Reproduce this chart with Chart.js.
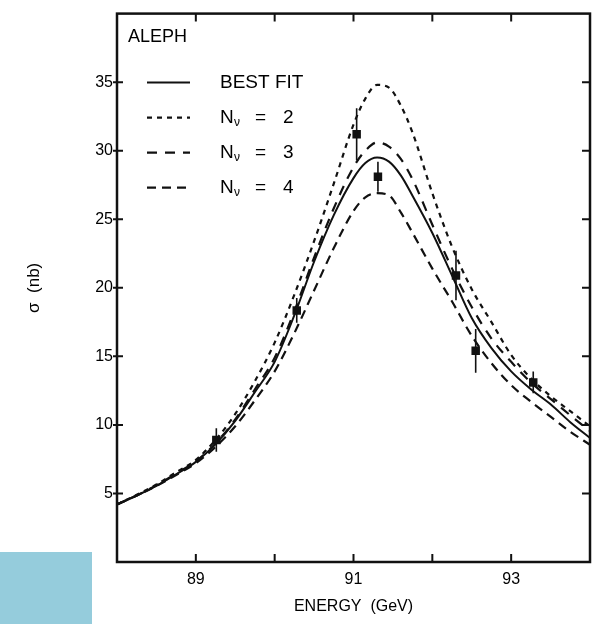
<!DOCTYPE html>
<html>
<head>
<meta charset="utf-8">
<script src="https://cdn.jsdelivr.net/npm/chart.js@4.4.0/dist/chart.umd.min.js"></script>
<style>
  html, body { margin: 0; padding: 0; background: #fff; }
  #wrap { position: relative; width: 602px; height: 624px; }
  #stamp { position: absolute; left: 0; top: 552px; width: 92px; height: 72px; background: #95ccdc; }
  #chart { position: absolute; left: 0; top: 0; }
</style>
</head>
<body>
<div id="wrap">
  <div id="stamp"></div>
  <canvas id="chart" width="602" height="624"></canvas>
</div>
<script>
// energy grid (GeV) shared by the four curves
const energy = [88, 88.25, 88.5, 88.75, 89, 89.25, 89.5, 89.75, 90, 90.25, 90.5, 90.75, 91,
                91.15, 91.3, 91.45, 91.6, 91.75, 92, 92.25, 92.5, 92.75, 93, 93.25, 93.5, 93.75, 94];

// cross sections (nb)
const bestFit = [4.2, 4.85, 5.55, 6.4, 7.3, 8.6, 10.3, 12.4, 14.6, 18.0, 21.9, 25.3, 28.0,
                 29.1, 29.5, 29.2, 28.2, 26.7, 24.0, 20.9, 17.8, 15.6, 13.9, 12.6, 11.5, 10.2, 9.05];
const nu2 = [4.2, 4.9, 5.65, 6.55, 7.45, 8.9, 10.8, 13.2, 16.0, 19.5, 23.4, 27.6, 31.9,
             33.8, 34.8, 34.6, 33.3, 31.3, 26.9, 23.0, 19.9, 17.5, 15.1, 13.4, 12.1, 11.0, 9.9];
const nu3 = [4.2, 4.85, 5.6, 6.45, 7.35, 8.65, 10.4, 12.6, 14.9, 18.3, 22.2, 25.8, 28.8,
             30.0, 30.6, 30.3, 29.4, 27.9, 24.6, 21.4, 18.6, 16.3, 14.6, 13.1, 11.9, 10.7, 9.55];
const nu4 = [4.2, 4.85, 5.55, 6.35, 7.2, 8.4, 9.9, 11.8, 13.9, 16.7, 19.8, 22.9, 25.6,
             26.6, 26.9, 26.75, 25.5, 24.0, 21.4, 19.0, 16.5, 14.5, 12.9, 11.7, 10.6, 9.5, 8.55];

// ALEPH measurements
const pointE = [89.26, 90.28, 91.04, 91.31, 92.30, 92.55, 93.28];
const pointSigma = [8.9, 18.35, 31.2, 28.1, 20.9, 15.4, 13.1];
const pointErr = [0.85, 0.9, 1.9, 1.1, 1.8, 1.6, 0.8];

const legendLabels = ['BEST FIT', 'Nν = 2', 'Nν = 3', 'Nν = 4'];
const yTicks = [5, 10, 15, 20, 25, 30, 35];
const xLabelTicks = [89, 91, 93];

Chart.defaults.font.family = "'Liberation Sans', Arial, sans-serif";
Chart.defaults.color = '#000';

function curve(values) {
    return energy.map((e, i) => ({ x: e, y: values[i] }));
}

const curveStyles = [
    { data: bestFit, dash: [], width: 2 },
    { data: nu2, dash: [5, 5], width: 2.2 },
    { data: nu3, dash: [10, 8], width: 2.2 },
    { data: nu4, dash: [9, 6], width: 2.2 }
];

const datasets = curveStyles.map((s, i) => ({
    type: 'line',
    label: legendLabels[i],
    data: curve(s.data),
    borderColor: '#111',
    borderWidth: s.width,
    borderDash: s.dash,
    pointRadius: 0,
    cubicInterpolationMode: 'monotone',
    fill: false
}));

datasets.push({
    type: 'scatter',
    label: 'ALEPH data',
    data: pointE.map((e, i) => ({ x: e, y: pointSigma[i] })),
    pointStyle: 'rect',
    pointRadius: 6,
    backgroundColor: '#111',
    borderColor: '#111',
    borderWidth: 0
});

// frame with inward ticks on all four sides
const framePlugin = {
    id: 'frame',
    afterDraw(chart) {
        const { ctx, chartArea: a, scales: { x, y } } = chart;
        ctx.save();
        ctx.strokeStyle = '#111';
        ctx.lineWidth = 2.5;
        ctx.strokeRect(a.left, a.top, a.right - a.left, a.bottom - a.top);
        ctx.lineWidth = 2;
        ctx.beginPath();
        x.ticks.forEach(t => {
            if (t.value <= x.min || t.value >= x.max) return;
            const px = x.getPixelForValue(t.value);
            ctx.moveTo(px, a.bottom); ctx.lineTo(px, a.bottom - 8);
            ctx.moveTo(px, a.top); ctx.lineTo(px, a.top + 8);
        });
        yTicks.forEach(v => {
            const py = y.getPixelForValue(v);
            ctx.moveTo(a.left - 4, py); ctx.lineTo(a.left + 6, py);
            ctx.moveTo(a.right, py); ctx.lineTo(a.right - 8, py);
        });
        ctx.stroke();
        ctx.restore();
    }
};

// vertical error bars on the measured points
const errorBarPlugin = {
    id: 'errorBars',
    afterDatasetsDraw(chart) {
        const { ctx, scales: { x, y } } = chart;
        ctx.save();
        ctx.strokeStyle = '#111';
        ctx.lineWidth = 1.6;
        ctx.beginPath();
        pointE.forEach((e, i) => {
            const px = x.getPixelForValue(e);
            ctx.moveTo(px, y.getPixelForValue(pointSigma[i] - pointErr[i]));
            ctx.lineTo(px, y.getPixelForValue(pointSigma[i] + pointErr[i]));
        });
        ctx.stroke();
        ctx.restore();
    }
};

// in-plot legend with the experiment name
const legendPlugin = {
    id: 'insideLegend',
    afterDraw(chart) {
        const { ctx, chartArea: a } = chart;
        ctx.save();
        ctx.fillStyle = '#000';
        ctx.textBaseline = 'middle';
        ctx.font = "18px 'Liberation Sans', Arial, sans-serif";
        ctx.fillText('ALEPH', a.left + 11, a.top + 23);
        legendLabels.forEach((label, i) => {
            const cy = a.top + 69 + i * 35;
            ctx.strokeStyle = '#111';
            ctx.lineWidth = curveStyles[i].width;
            ctx.setLineDash(curveStyles[i].dash);
            ctx.beginPath();
            ctx.moveTo(a.left + 30, cy);
            ctx.lineTo(a.left + 73, cy);
            ctx.stroke();
            ctx.setLineDash([]);
            const tx = a.left + 103;
            ctx.font = "19px 'Liberation Sans', Arial, sans-serif";
            if (label.startsWith('Nν')) {
                ctx.fillText('N', tx, cy);
                ctx.font = "12px 'Liberation Sans', Arial, sans-serif";
                ctx.fillText('ν', tx + 14, cy + 5);
                ctx.font = "19px 'Liberation Sans', Arial, sans-serif";
                const rest = label.slice(2).trim().split(' ');
                ctx.fillText(rest[0], tx + 35, cy);
                ctx.fillText(rest[1], tx + 63, cy);
            } else {
                ctx.fillText(label, tx, cy);
            }
        });
        ctx.restore();
    }
};

new Chart(document.getElementById('chart'), {
    data: { datasets: datasets },
    options: {
        responsive: false,
        animation: false,
        layout: { padding: { top: 5, right: 12, left: 0, bottom: 0 } },
        plugins: { legend: { display: false }, tooltip: { enabled: false } },
        scales: {
            x: {
                type: 'linear',
                min: 88,
                max: 94,
                grid: { display: false, drawTicks: false },
                border: { display: false },
                ticks: {
                    stepSize: 1,
                    autoSkip: false,
                    maxRotation: 0,
                    padding: 8,
                    font: { size: 16 },
                    callback: v => (xLabelTicks.includes(v) ? String(v) : '')
                },
                title: {
                    display: true,
                    text: 'ENERGY  (GeV)',
                    font: { size: 16 },
                    padding: { top: 0, bottom: 8 }
                },
                afterFit(scale) { scale.height = 62; }
            },
            y: {
                min: 0,
                max: 40,
                grid: { display: false, drawTicks: false },
                border: { display: false },
                ticks: {
                    stepSize: 5,
                    padding: 4,
                    font: { size: 16 },
                    callback: v => (yTicks.includes(v) ? String(v) : '')
                },
                title: {
                    display: true,
                    text: 'σ  (nb)',
                    font: { size: 17 },
                    padding: { top: 24, bottom: 0 }
                },
                afterFit(scale) { scale.width = 117; }
            }
        }
    },
    plugins: [framePlugin, errorBarPlugin, legendPlugin]
});
</script>
</body>
</html>
